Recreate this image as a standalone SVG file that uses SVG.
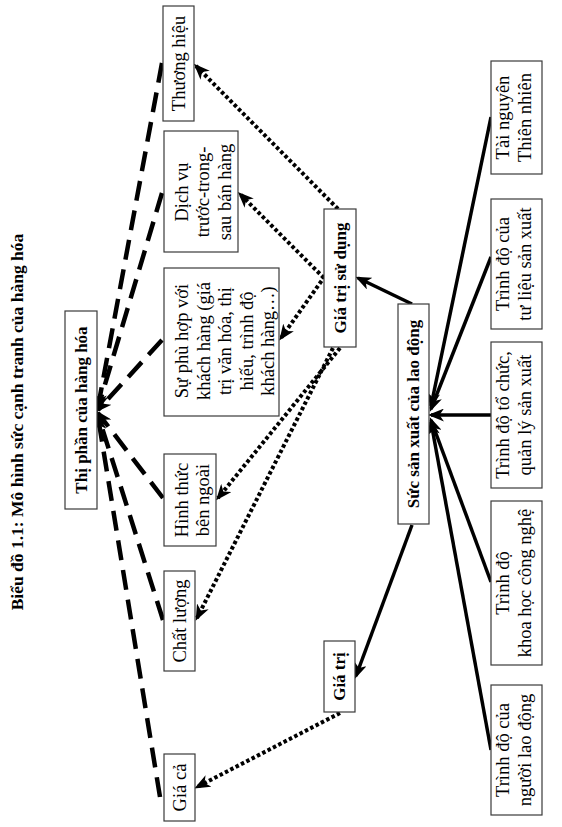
<svg xmlns="http://www.w3.org/2000/svg" width="562" height="827" viewBox="0 0 562 827">
<style>
.bx{fill:#fff;stroke:#3a3a3a;stroke-width:1.2}
.t{font-family:"Liberation Serif","Times New Roman",serif;font-size:18.5px;fill:#000;text-anchor:middle;dominant-baseline:central}
.b{font-weight:bold;font-size:17px}
.solid{stroke:#000;stroke-width:3.5;fill:none;marker-end:url(#ah)}
.dot{stroke:#000;stroke-width:4;fill:none;stroke-dasharray:3.5 2.5;marker-end:url(#ah)}
.dash{stroke:#000;stroke-width:4.5;fill:none;stroke-dasharray:20 10;marker-end:url(#ah)}
</style>
<defs>
<marker id="ah" markerUnits="userSpaceOnUse" viewBox="0 0 16 13" markerWidth="16" markerHeight="13" refX="13" refY="6.5" orient="auto">
<path d="M0,0 L16,6.5 L0,13 L4.5,6.5 Z" fill="#000"/>
</marker>
</defs>
<text class="t b" style="font-size:17.5px" x="17" y="422" transform="rotate(-90 17 422)">Biểu đồ 1.1: Mô hình  sức cạnh tranh của hàng hóa</text>

<g id="connectors">
<line class="solid" x1="491" y1="117" x2="431" y2="406"/>
<line class="solid" x1="491" y1="257" x2="431" y2="409"/>
<line class="solid" x1="491" y1="415" x2="431" y2="415"/>
<line class="solid" x1="491" y1="582" x2="431" y2="420"/>
<line class="solid" x1="491" y1="750" x2="431" y2="422"/>
<line class="solid" x1="412" y1="304" x2="358" y2="278"/>
<line class="solid" x1="412" y1="525" x2="356" y2="676"/>
<line class="dot" x1="338" y1="209" x2="196" y2="66"/>
<line class="dot" x1="324" y1="278" x2="240" y2="194"/>
<line class="dot" x1="325" y1="276" x2="281" y2="338"/>
<line class="dot" x1="340" y1="348" x2="218" y2="498"/>
<line class="dot" x1="333" y1="348" x2="197" y2="618"/>
<line class="dot" x1="340" y1="713" x2="197" y2="787"/>
<line class="dash" x1="162" y1="63" x2="98" y2="407"/>
<line class="dash" x1="162" y1="193" x2="98" y2="408"/>
<line class="dash" x1="162" y1="340" x2="98" y2="410"/>
<line class="dash" x1="163" y1="498" x2="98" y2="413"/>
<line class="dash" x1="163" y1="620" x2="98" y2="415"/>
<line class="dash" x1="160" y1="797" x2="98" y2="417"/>
</g>

<g id="thi-phan">
<rect class="bx" x="65" y="311" width="32" height="198"/>
<text class="t b" x="81" y="410" transform="rotate(-90 81 410)">Thị phần  của hàng hóa</text>
</g>
<g id="thuong-hieu">
<rect class="bx" x="163" y="6" width="31" height="115"/>
<text class="t" x="178.5" y="63.5" transform="rotate(-90 178.5 63.5)">Thương hiệu</text>
</g>
<g id="dich-vu">
<rect class="bx" x="164" y="131" width="74" height="121"/>
<text class="t" x="203" y="192" transform="rotate(-90 203 192)"><tspan x="203" y="170.5">Dịch vụ</tspan><tspan x="203" y="192">trước-trong-</tspan><tspan x="203" y="213.5">sau bán hàng</tspan></text>
</g>
<g id="su-phu-hop">
<rect class="bx" x="164" y="268" width="115" height="148"/>
<text class="t" x="225" y="341" transform="rotate(-90 225 341)"><tspan x="225" y="298">Sự phù hợp với</tspan><tspan x="225" y="319.5">khách hàng (giá</tspan><tspan x="225" y="341">trị văn hóa, thị</tspan><tspan x="225" y="362.5">hiếu, trình độ</tspan><tspan x="225" y="384">khách hàng…)</tspan></text>
</g>
<g id="hinh-thuc">
<rect class="bx" x="164" y="454" width="52" height="92"/>
<text class="t" x="192.5" y="500" transform="rotate(-90 192.5 500)"><tspan x="192.5" y="489.25">Hình thức</tspan><tspan x="192.5" y="510.75">bên ngoài</tspan></text>
</g>
<g id="chat-luong">
<rect class="bx" x="164" y="571" width="31" height="100"/>
<text class="t" x="179.5" y="621" transform="rotate(-90 179.5 621)">Chất lượng</text>
</g>
<g id="gia-ca">
<rect class="bx" x="164" y="754" width="31" height="67"/>
<text class="t" x="179.5" y="787.5" transform="rotate(-90 179.5 787.5)">Giá cả</text>
</g>
<g id="gia-tri-su-dung">
<rect class="bx" x="324" y="209" width="32" height="138"/>
<text class="t b" x="340" y="278" transform="rotate(-90 340 278)">Giá trị sử dụng</text>
</g>
<g id="gia-tri">
<rect class="bx" x="324" y="641" width="31" height="71"/>
<text class="t b" x="339.5" y="676.5" transform="rotate(-90 339.5 676.5)">Giá trị</text>
</g>
<g id="suc-san-xuat">
<rect class="bx" x="398" y="304" width="31" height="220"/>
<text class="t b" x="413.5" y="414" transform="rotate(-90 413.5 414)">Sức sản xuất của lao động</text>
</g>
<g id="tai-nguyen">
<rect class="bx" x="491" y="61" width="51" height="113"/>
<text class="t" x="514" y="117.5" transform="rotate(-90 514 117.5)"><tspan x="514" y="106.75">Tài nguyên</tspan><tspan x="514" y="128.25">Thiên nhiên</tspan></text>
</g>
<g id="tu-lieu">
<rect class="bx" x="491" y="199" width="51" height="130"/>
<text class="t" x="514" y="264" transform="rotate(-90 514 264)"><tspan x="514" y="253.25">Trình độ của</tspan><tspan x="514" y="274.75">tư liệu sản xuất</tspan></text>
</g>
<g id="to-chuc">
<rect class="bx" x="491" y="342" width="51" height="146"/>
<text class="t" x="514" y="415" transform="rotate(-90 514 415)"><tspan x="514" y="404.25">Trình độ tổ chức,</tspan><tspan x="514" y="425.75">quản lý sản xuất</tspan></text>
</g>
<g id="khoa-hoc">
<rect class="bx" x="491" y="501" width="51" height="164"/>
<text class="t" x="514" y="583" transform="rotate(-90 514 583)"><tspan x="514" y="572.25">Trình độ</tspan><tspan x="514" y="593.75">khoa học công nghệ</tspan></text>
</g>
<g id="nguoi-lao-dong">
<rect class="bx" x="491" y="685" width="51" height="130"/>
<text class="t" x="514" y="750" transform="rotate(-90 514 750)"><tspan x="514" y="739.25">Trình độ của</tspan><tspan x="514" y="760.75">người lao động</tspan></text>
</g>
</svg>
